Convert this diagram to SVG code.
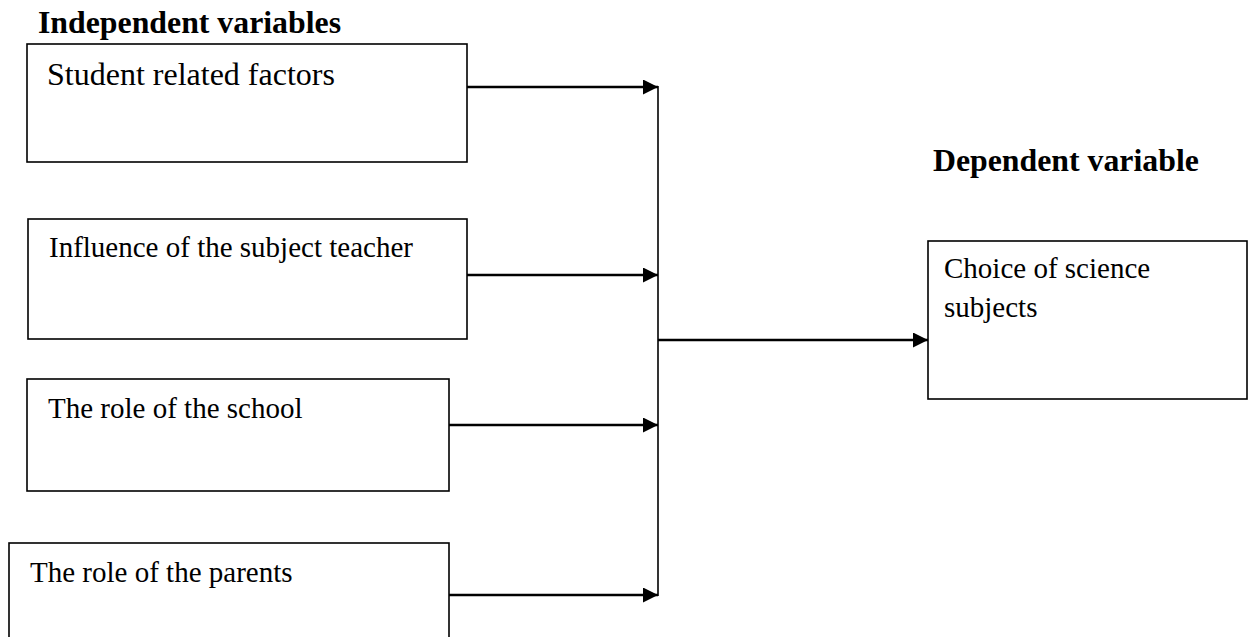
<svg xmlns="http://www.w3.org/2000/svg" width="1251" height="637" viewBox="0 0 1251 637">
<style>
.box{fill:#fff;stroke:#000;stroke-width:1.6}
.t{font-family:"Liberation Serif","Times New Roman",serif;font-size:29px;fill:#000}
.h{font-family:"Liberation Serif","Times New Roman",serif;font-size:31.8px;font-weight:bold;fill:#000}
.c{stroke:#000;stroke-width:2.6;fill:none}
.v{stroke:#000;stroke-width:1.6;fill:none}
</style>
<defs>
<marker id="ah" markerUnits="userSpaceOnUse" markerWidth="16" markerHeight="16" refX="15" refY="7.5" orient="auto">
<path d="M0,0 L15,7.5 L0,15 z" fill="#000"/>
</marker>
</defs>
<rect width="1251" height="637" fill="#fff"/>
<text class="h" x="38" y="33">Independent variables</text>
<text class="h" x="933" y="171">Dependent variable</text>
<g id="n1"><rect class="box" x="27" y="44" width="440" height="118"/><text class="t" x="47" y="85" style="font-size:32px">Student related factors</text></g>
<g id="n2"><rect class="box" x="28" y="219" width="439" height="120"/><text class="t" x="49" y="257">Influence of the subject teacher</text></g>
<g id="n3"><rect class="box" x="27" y="379" width="422" height="112"/><text class="t" x="48" y="418">The role of the school</text></g>
<g id="n4"><rect class="box" x="9" y="543" width="440" height="100"/><text class="t" x="30" y="582">The role of the parents</text></g>
<g id="n5"><rect class="box" x="928" y="241" width="319" height="158"/><text class="t" x="944" y="278">Choice of science</text><text class="t" x="944" y="317">subjects</text></g>
<g id="connectors">
<line class="v" x1="658" y1="86" x2="658" y2="596"/>
<line class="c" x1="467" y1="87" x2="658" y2="87" marker-end="url(#ah)"/>
<line class="c" x1="467" y1="275" x2="658" y2="275" marker-end="url(#ah)"/>
<line class="c" x1="449" y1="425" x2="658" y2="425" marker-end="url(#ah)"/>
<line class="c" x1="449" y1="595" x2="658" y2="595" marker-end="url(#ah)"/>
<line class="c" x1="658" y1="340" x2="928" y2="340" marker-end="url(#ah)"/>
</g>
</svg>
